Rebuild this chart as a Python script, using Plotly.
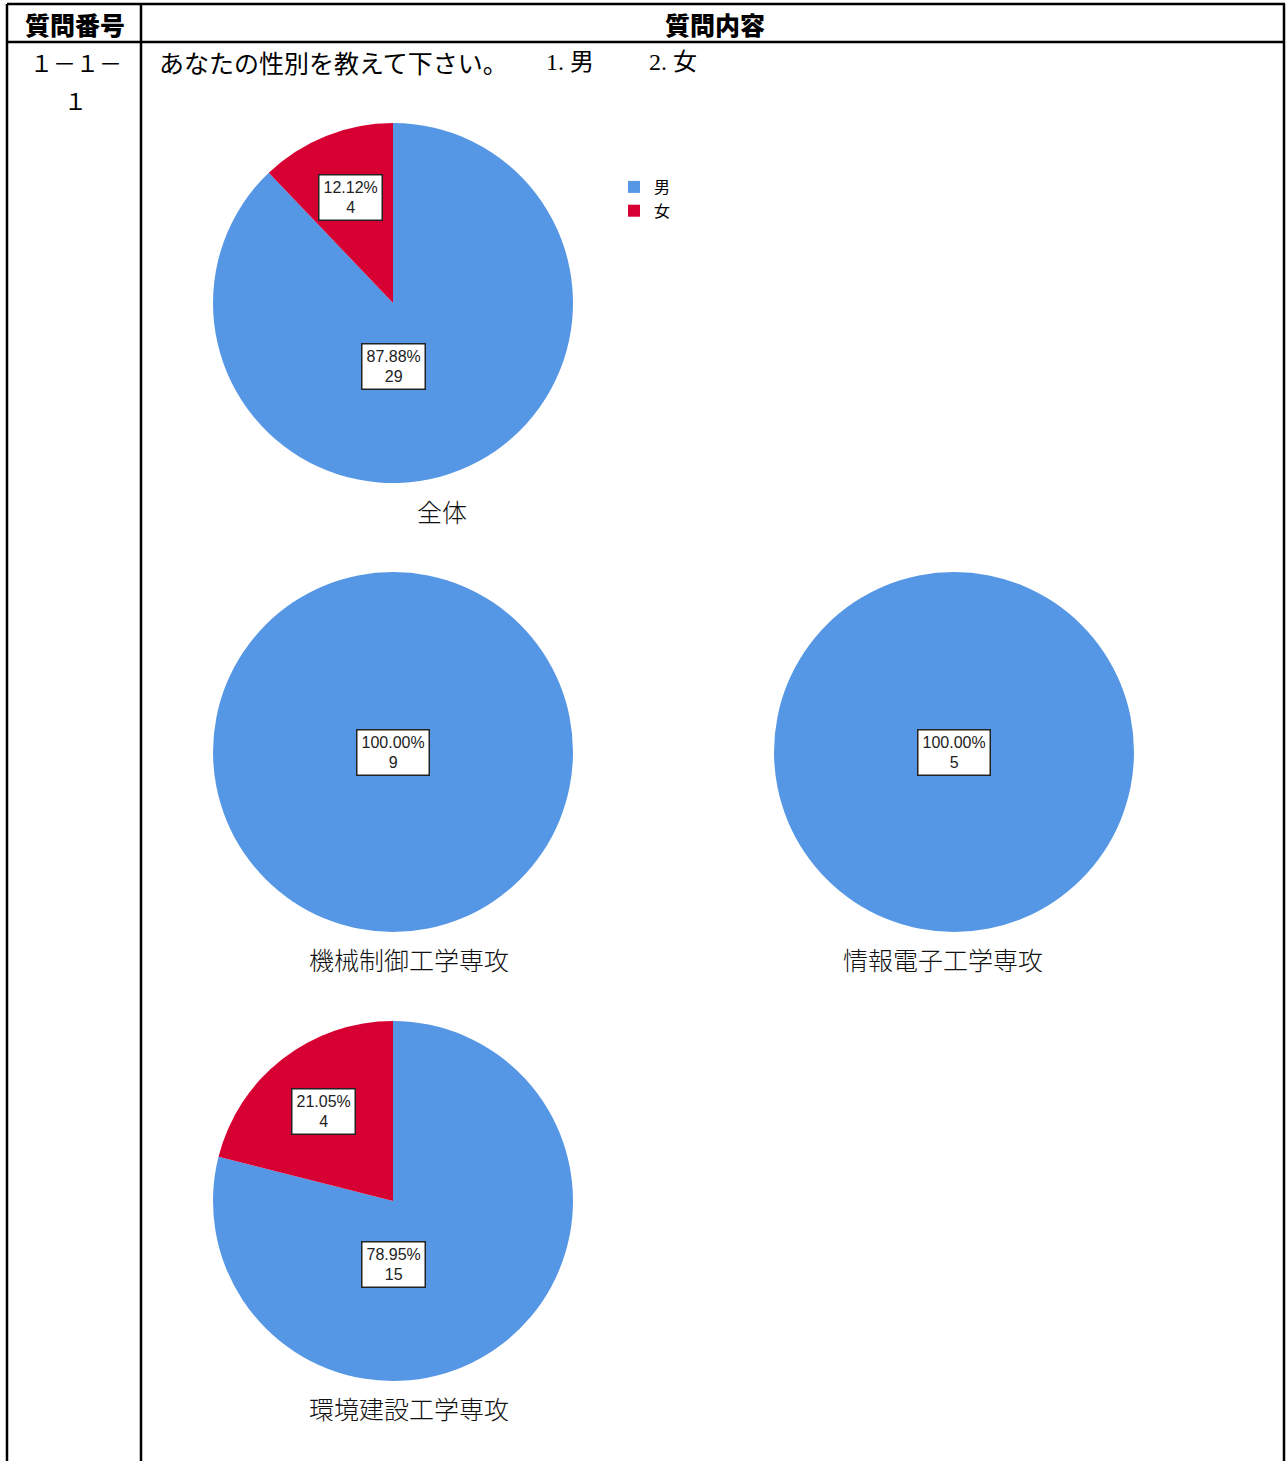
import math
import plotly.graph_objects as go

W, H = 1286, 1461

# ---- data ----
groups = ["全体", "機械制御工学専攻", "情報電子工学専攻", "環境建設工学専攻"]
labels = ["男", "女"]
male = [29, 9, 5, 15]
female = [4, 0, 0, 4]
question_no = ["１－１－", "１"]
question = "あなたの性別を教えて下さい。"
choices = ["1. 男", "2. 女"]
headers = ["質問番号", "質問内容"]

# ---- styling / layout ----
colors = ["#5697E5", "#D60032"]
centers = [(393, 303), (393, 752), (954, 752), (393, 1201)]
R = 180
title_pos = [(442, 511), (409, 959), (943, 959), (409, 1408)]
SANS = "Noto Sans CJK JP"
SERIF = "Liberation Serif, Noto Sans CJK JP"


def px(x):
    return x / W


def py(y):
    return 1 - y / H


fig = go.Figure()
annotations = []

for i, g in enumerate(groups):
    cx, cy = centers[i]
    vals = [male[i], female[i]]
    fig.add_trace(go.Pie(
        labels=labels, values=vals, name=g, sort=False,
        direction="clockwise", rotation=0,
        marker=dict(colors=colors, line=dict(width=0)),
        textinfo="none", hoverinfo="label+value+percent",
        domain=dict(x=[px(cx - R), px(cx + R)], y=[py(cy + R), py(cy - R)]),
        showlegend=(i == 0),
    ))
    total = sum(vals)
    cum = 0.0
    for j, v in enumerate(vals):
        f = v / total
        if f == 0:
            continue
        if f >= 1:
            lx, ly = cx, cy
        else:
            if f > 0.5:
                ang, r = math.pi, 0.35 * R
            else:
                ang, r = 2 * math.pi * (cum + f / 2), 0.63 * R
            lx = cx + r * math.sin(ang)
            ly = cy - r * math.cos(ang)
        cum += f
        annotations.append(dict(
            x=px(lx), y=py(ly),
            text=f"{v / total * 100:.2f}%<br>{v}",
            font=dict(family="Liberation Sans, Arial", size=16, color="#222"),
            bgcolor="white", bordercolor="#222", borderwidth=1.5, borderpad=4,
            height=36, xanchor="center", yanchor="middle",
        ))
    tx, ty = title_pos[i]
    annotations.append(dict(
        x=px(tx), y=py(ty), text=g,
        font=dict(family=SANS, size=25, color="#111", weight=300),
        xanchor="center", yanchor="middle",
    ))

# header texts
annotations += [
    dict(x=px(75), y=py(24), text=headers[0], font=dict(family=SANS, size=25, color="#000", weight=900),
         xanchor="center", yanchor="middle"),
    dict(x=px(715), y=py(24), text=headers[1], font=dict(family=SANS, size=25, color="#000", weight=900),
         xanchor="center", yanchor="middle"),
    dict(x=px(76), y=py(62), text=question_no[0], font=dict(family=SANS, size=23, color="#000"),
         xanchor="center", yanchor="middle"),
    dict(x=px(75), y=py(100), text=question_no[1], font=dict(family=SANS, size=23, color="#000"),
         xanchor="center", yanchor="middle"),
    dict(x=px(157), y=py(62), text=question, font=dict(family=SANS, size=25, color="#000"),
         xanchor="left", yanchor="middle"),
    dict(x=px(544), y=py(62), text=choices[0], font=dict(family=SERIF, size=24, color="#000"),
         xanchor="left", yanchor="middle"),
    dict(x=px(647), y=py(62), text=choices[1], font=dict(family=SERIF, size=24, color="#000"),
         xanchor="left", yanchor="middle"),
]
for a in annotations:
    a.setdefault("xref", "paper")
    a.setdefault("yref", "paper")
    a.setdefault("showarrow", False)

# table lines
shapes = []
line = dict(color="black", width=2.5)
for (x0, y0, x1, y1) in [(7, 4, 1285, 4), (7, 42, 1285, 42), (7, 4, 7, H),
                         (141, 4, 141, H), (1284, 4, 1284, H)]:
    shapes.append(dict(type="line", xref="paper", yref="paper",
                       x0=px(x0), y0=py(y0), x1=px(x1), y1=py(y1), line=line))

fig.update_layout(
    width=W, height=H, margin=dict(l=0, r=0, t=0, b=0),
    paper_bgcolor="white", plot_bgcolor="white",
    annotations=annotations, shapes=shapes,
    legend=dict(x=px(614), y=py(170), xanchor="left", yanchor="top",
                font=dict(family=SANS, size=16, color="#000"),
                bgcolor="rgba(0,0,0,0)", itemwidth=30, tracegroupgap=0),
)

fig.write_html("out.html", config={"displayModeBar": False},
               post_script="document.body.style.margin='0';document.body.style.overflow='hidden';")
